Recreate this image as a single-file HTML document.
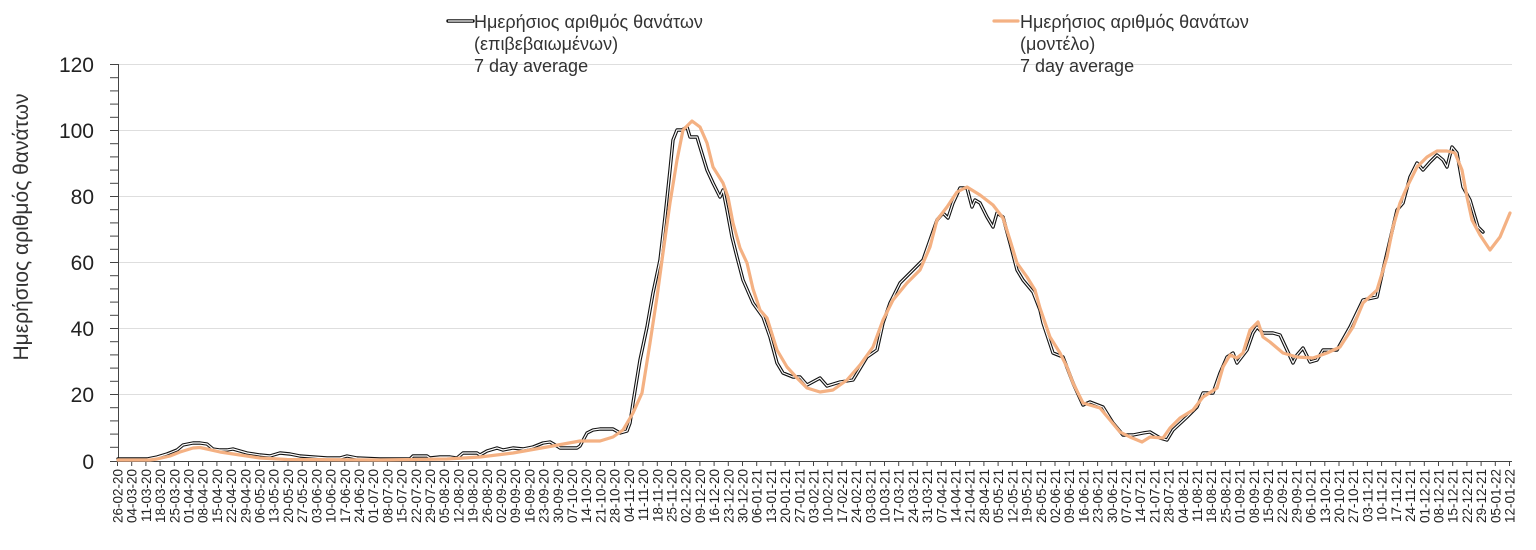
<!DOCTYPE html>
<html><head><meta charset="utf-8"><style>
html,body{margin:0;padding:0;background:#fff;}
svg{display:block;font-family:"Liberation Sans",Arial,sans-serif;}
</style></head><body>
<svg width="1536" height="550" viewBox="0 0 1536 550" xmlns="http://www.w3.org/2000/svg">
<rect width="1536" height="550" fill="#fff"/>
<g stroke="#dedede" stroke-width="1">
<line x1="118" y1="64.5" x2="1512" y2="64.5"/>
<line x1="118" y1="130.5" x2="1512" y2="130.5"/>
<line x1="118" y1="196.5" x2="1512" y2="196.5"/>
<line x1="118" y1="262.5" x2="1512" y2="262.5"/>
<line x1="118" y1="328.5" x2="1512" y2="328.5"/>
<line x1="118" y1="394.5" x2="1512" y2="394.5"/>
</g>
<g stroke="#444" stroke-width="1">
<line x1="118.5" y1="64" x2="118.5" y2="461"/>
<line x1="117" y1="461.5" x2="1512" y2="461.5"/>
<line x1="110" y1="64.5" x2="118" y2="64.5"/><line x1="110" y1="77.7" x2="118" y2="77.7"/><line x1="110" y1="90.9" x2="118" y2="90.9"/><line x1="110" y1="104.1" x2="118" y2="104.1"/><line x1="110" y1="117.3" x2="118" y2="117.3"/>
<line x1="110" y1="130.5" x2="118" y2="130.5"/><line x1="110" y1="143.7" x2="118" y2="143.7"/><line x1="110" y1="156.9" x2="118" y2="156.9"/><line x1="110" y1="170.1" x2="118" y2="170.1"/><line x1="110" y1="183.3" x2="118" y2="183.3"/>
<line x1="110" y1="196.5" x2="118" y2="196.5"/><line x1="110" y1="209.7" x2="118" y2="209.7"/><line x1="110" y1="222.9" x2="118" y2="222.9"/><line x1="110" y1="236.1" x2="118" y2="236.1"/><line x1="110" y1="249.3" x2="118" y2="249.3"/>
<line x1="110" y1="262.5" x2="118" y2="262.5"/><line x1="110" y1="275.7" x2="118" y2="275.7"/><line x1="110" y1="288.9" x2="118" y2="288.9"/><line x1="110" y1="302.1" x2="118" y2="302.1"/><line x1="110" y1="315.3" x2="118" y2="315.3"/>
<line x1="110" y1="328.5" x2="118" y2="328.5"/><line x1="110" y1="341.7" x2="118" y2="341.7"/><line x1="110" y1="354.9" x2="118" y2="354.9"/><line x1="110" y1="368.1" x2="118" y2="368.1"/><line x1="110" y1="381.3" x2="118" y2="381.3"/>
<line x1="110" y1="394.5" x2="118" y2="394.5"/><line x1="110" y1="407.7" x2="118" y2="407.7"/><line x1="110" y1="420.9" x2="118" y2="420.9"/><line x1="110" y1="434.1" x2="118" y2="434.1"/><line x1="110" y1="447.3" x2="118" y2="447.3"/>
<line x1="110" y1="461.5" x2="118" y2="461.5"/>
</g>
<path stroke="#444" stroke-width="1" fill="none" d="M117.5 461v5M131.7 461v5M145.9 461v5M160.1 461v5M174.3 461v5M188.5 461v5M202.7 461v5M216.9 461v5M231.1 461v5M245.3 461v5M259.5 461v5M273.7 461v5M288 461v5M302.2 461v5M316.4 461v5M330.6 461v5M344.8 461v5M359 461v5M373.2 461v5M387.4 461v5M401.6 461v5M415.8 461v5M430 461v5M444.2 461v5M458.4 461v5M472.6 461v5M486.8 461v5M501 461v5M515.2 461v5M529.4 461v5M543.6 461v5M557.8 461v5M572 461v5M586.2 461v5M600.4 461v5M614.6 461v5M628.8 461v5M643 461v5M657.3 461v5M671.5 461v5M685.7 461v5M699.9 461v5M714.1 461v5M728.3 461v5M742.5 461v5M756.7 461v5M770.9 461v5M785.1 461v5M799.3 461v5M813.5 461v5M827.7 461v5M841.9 461v5M856.1 461v5M870.3 461v5M884.5 461v5M898.7 461v5M912.9 461v5M927.1 461v5M941.3 461v5M955.5 461v5M969.7 461v5M983.9 461v5M998.1 461v5M1012.3 461v5M1026.5 461v5M1040.8 461v5M1055 461v5M1069.2 461v5M1083.4 461v5M1097.6 461v5M1111.8 461v5M1126 461v5M1140.2 461v5M1154.4 461v5M1168.6 461v5M1182.8 461v5M1197 461v5M1211.2 461v5M1225.4 461v5M1239.6 461v5M1253.8 461v5M1268 461v5M1282.2 461v5M1296.4 461v5M1310.6 461v5M1324.8 461v5M1339 461v5M1353.2 461v5M1367.4 461v5M1381.6 461v5M1395.8 461v5M1410 461v5M1424.3 461v5M1438.5 461v5M1452.7 461v5M1466.9 461v5M1481.1 461v5M1495.3 461v5M1509.5 461v5"/>
<g font-size="21" fill="#222" text-anchor="end">
<text x="94" y="72">120</text>
<text x="94" y="138">100</text>
<text x="94" y="204">80</text>
<text x="94" y="270">60</text>
<text x="94" y="336">40</text>
<text x="94" y="402">20</text>
<text x="94" y="469">0</text>
</g>
<text transform="translate(28,227) rotate(-90)" font-size="21" fill="#333" text-anchor="middle">Ημερήσιος αριθμός θανάτων</text>
<g font-size="13.5" fill="#222" text-anchor="end">
<text transform="translate(122.5,469) rotate(-90)">26-02-20</text>
<text transform="translate(136.7,469) rotate(-90)">04-03-20</text>
<text transform="translate(150.9,469) rotate(-90)">11-03-20</text>
<text transform="translate(165.1,469) rotate(-90)">18-03-20</text>
<text transform="translate(179.3,469) rotate(-90)">25-03-20</text>
<text transform="translate(193.5,469) rotate(-90)">01-04-20</text>
<text transform="translate(207.7,469) rotate(-90)">08-04-20</text>
<text transform="translate(221.9,469) rotate(-90)">15-04-20</text>
<text transform="translate(236.1,469) rotate(-90)">22-04-20</text>
<text transform="translate(250.3,469) rotate(-90)">29-04-20</text>
<text transform="translate(264.5,469) rotate(-90)">06-05-20</text>
<text transform="translate(278.7,469) rotate(-90)">13-05-20</text>
<text transform="translate(293,469) rotate(-90)">20-05-20</text>
<text transform="translate(307.2,469) rotate(-90)">27-05-20</text>
<text transform="translate(321.4,469) rotate(-90)">03-06-20</text>
<text transform="translate(335.6,469) rotate(-90)">10-06-20</text>
<text transform="translate(349.8,469) rotate(-90)">17-06-20</text>
<text transform="translate(364,469) rotate(-90)">24-06-20</text>
<text transform="translate(378.2,469) rotate(-90)">01-07-20</text>
<text transform="translate(392.4,469) rotate(-90)">08-07-20</text>
<text transform="translate(406.6,469) rotate(-90)">15-07-20</text>
<text transform="translate(420.8,469) rotate(-90)">22-07-20</text>
<text transform="translate(435,469) rotate(-90)">29-07-20</text>
<text transform="translate(449.2,469) rotate(-90)">05-08-20</text>
<text transform="translate(463.4,469) rotate(-90)">12-08-20</text>
<text transform="translate(477.6,469) rotate(-90)">19-08-20</text>
<text transform="translate(491.8,469) rotate(-90)">26-08-20</text>
<text transform="translate(506,469) rotate(-90)">02-09-20</text>
<text transform="translate(520.2,469) rotate(-90)">09-09-20</text>
<text transform="translate(534.4,469) rotate(-90)">16-09-20</text>
<text transform="translate(548.6,469) rotate(-90)">23-09-20</text>
<text transform="translate(562.8,469) rotate(-90)">30-09-20</text>
<text transform="translate(577,469) rotate(-90)">07-10-20</text>
<text transform="translate(591.2,469) rotate(-90)">14-10-20</text>
<text transform="translate(605.4,469) rotate(-90)">21-10-20</text>
<text transform="translate(619.6,469) rotate(-90)">28-10-20</text>
<text transform="translate(633.8,469) rotate(-90)">04-11-20</text>
<text transform="translate(648,469) rotate(-90)">11-11-20</text>
<text transform="translate(662.3,469) rotate(-90)">18-11-20</text>
<text transform="translate(676.5,469) rotate(-90)">25-11-20</text>
<text transform="translate(690.7,469) rotate(-90)">02-12-20</text>
<text transform="translate(704.9,469) rotate(-90)">09-12-20</text>
<text transform="translate(719.1,469) rotate(-90)">16-12-20</text>
<text transform="translate(733.3,469) rotate(-90)">23-12-20</text>
<text transform="translate(747.5,469) rotate(-90)">30-12-20</text>
<text transform="translate(761.7,469) rotate(-90)">06-01-21</text>
<text transform="translate(775.9,469) rotate(-90)">13-01-21</text>
<text transform="translate(790.1,469) rotate(-90)">20-01-21</text>
<text transform="translate(804.3,469) rotate(-90)">27-01-21</text>
<text transform="translate(818.5,469) rotate(-90)">03-02-21</text>
<text transform="translate(832.7,469) rotate(-90)">10-02-21</text>
<text transform="translate(846.9,469) rotate(-90)">17-02-21</text>
<text transform="translate(861.1,469) rotate(-90)">24-02-21</text>
<text transform="translate(875.3,469) rotate(-90)">03-03-21</text>
<text transform="translate(889.5,469) rotate(-90)">10-03-21</text>
<text transform="translate(903.7,469) rotate(-90)">17-03-21</text>
<text transform="translate(917.9,469) rotate(-90)">24-03-21</text>
<text transform="translate(932.1,469) rotate(-90)">31-03-21</text>
<text transform="translate(946.3,469) rotate(-90)">07-04-21</text>
<text transform="translate(960.5,469) rotate(-90)">14-04-21</text>
<text transform="translate(974.7,469) rotate(-90)">21-04-21</text>
<text transform="translate(988.9,469) rotate(-90)">28-04-21</text>
<text transform="translate(1003.1,469) rotate(-90)">05-05-21</text>
<text transform="translate(1017.3,469) rotate(-90)">12-05-21</text>
<text transform="translate(1031.5,469) rotate(-90)">19-05-21</text>
<text transform="translate(1045.8,469) rotate(-90)">26-05-21</text>
<text transform="translate(1060,469) rotate(-90)">02-06-21</text>
<text transform="translate(1074.2,469) rotate(-90)">09-06-21</text>
<text transform="translate(1088.4,469) rotate(-90)">16-06-21</text>
<text transform="translate(1102.6,469) rotate(-90)">23-06-21</text>
<text transform="translate(1116.8,469) rotate(-90)">30-06-21</text>
<text transform="translate(1131,469) rotate(-90)">07-07-21</text>
<text transform="translate(1145.2,469) rotate(-90)">14-07-21</text>
<text transform="translate(1159.4,469) rotate(-90)">21-07-21</text>
<text transform="translate(1173.6,469) rotate(-90)">28-07-21</text>
<text transform="translate(1187.8,469) rotate(-90)">04-08-21</text>
<text transform="translate(1202,469) rotate(-90)">11-08-21</text>
<text transform="translate(1216.2,469) rotate(-90)">18-08-21</text>
<text transform="translate(1230.4,469) rotate(-90)">25-08-21</text>
<text transform="translate(1244.6,469) rotate(-90)">01-09-21</text>
<text transform="translate(1258.8,469) rotate(-90)">08-09-21</text>
<text transform="translate(1273,469) rotate(-90)">15-09-21</text>
<text transform="translate(1287.2,469) rotate(-90)">22-09-21</text>
<text transform="translate(1301.4,469) rotate(-90)">29-09-21</text>
<text transform="translate(1315.6,469) rotate(-90)">06-10-21</text>
<text transform="translate(1329.8,469) rotate(-90)">13-10-21</text>
<text transform="translate(1344,469) rotate(-90)">20-10-21</text>
<text transform="translate(1358.2,469) rotate(-90)">27-10-21</text>
<text transform="translate(1372.4,469) rotate(-90)">03-11-21</text>
<text transform="translate(1386.6,469) rotate(-90)">10-11-21</text>
<text transform="translate(1400.8,469) rotate(-90)">17-11-21</text>
<text transform="translate(1415,469) rotate(-90)">24-11-21</text>
<text transform="translate(1429.3,469) rotate(-90)">01-12-21</text>
<text transform="translate(1443.5,469) rotate(-90)">08-12-21</text>
<text transform="translate(1457.7,469) rotate(-90)">15-12-21</text>
<text transform="translate(1471.9,469) rotate(-90)">22-12-21</text>
<text transform="translate(1486.1,469) rotate(-90)">29-12-21</text>
<text transform="translate(1500.3,469) rotate(-90)">05-01-22</text>
<text transform="translate(1514.5,469) rotate(-90)">12-01-22</text>
</g>
<g fill="none" stroke-linejoin="round" stroke-linecap="round">
<polyline id="blk" stroke="#111" stroke-width="3.4" points="118,459 147,459 157,457 167,454 177,450 183,445 193,443 200,443 207,444 213,449 220,450 227,450 233,449 240,451 247,453 260,455 270,456 280,453 290,454 300,456 313,457 327,458 340,458 347,456 357,458 380,459 410,459 413,456 427,456 430,458 440,457 450,457 457,458 463,453 477,453 480,455 487,451 497,448 503,450 513,448 523,449 533,447 543,443 550,442 557,446 560,448 577,448 580,446 587,433 593,430 600,429 613,429 620,433 627,431 630,423 633,403 640,360 647,327 653,293 660,260 665,217 670,170 673,140 677,130 682,130 687,127 690,137 697,137 700,147 707,170 713,183 720,197 723,190 727,210 732,237 737,257 743,280 753,303 763,317 770,337 777,363 783,373 793,377 800,377 807,385 820,378 827,386 840,382 853,380 867,357 877,350 883,323 890,303 900,283 913,270 923,260 930,240 937,220 943,213 948,218 953,203 960,188 967,188 972,207 975,200 980,203 987,217 993,227 997,213 1003,217 1010,243 1017,270 1023,280 1033,292 1040,310 1043,323 1053,353 1063,357 1073,383 1083,405 1090,402 1103,407 1113,423 1123,435 1133,435 1143,433 1150,432 1160,438 1167,440 1173,430 1187,417 1197,407 1203,393 1213,393 1220,373 1227,357 1233,353 1237,363 1247,350 1253,333 1257,327 1263,333 1273,333 1280,335 1287,350 1293,363 1297,355 1303,348 1310,362 1317,360 1323,350 1337,350 1350,327 1363,300 1377,297 1383,270 1390,240 1397,210 1403,203 1410,177 1417,163 1423,170 1430,162 1437,155 1443,160 1447,167 1452,147 1457,153 1463,187 1470,200 1475,217 1478,227 1483,232"/>
<polyline stroke="#fff" stroke-width="1.2" points="118,459 147,459 157,457 167,454 177,450 183,445 193,443 200,443 207,444 213,449 220,450 227,450 233,449 240,451 247,453 260,455 270,456 280,453 290,454 300,456 313,457 327,458 340,458 347,456 357,458 380,459 410,459 413,456 427,456 430,458 440,457 450,457 457,458 463,453 477,453 480,455 487,451 497,448 503,450 513,448 523,449 533,447 543,443 550,442 557,446 560,448 577,448 580,446 587,433 593,430 600,429 613,429 620,433 627,431 630,423 633,403 640,360 647,327 653,293 660,260 665,217 670,170 673,140 677,130 682,130 687,127 690,137 697,137 700,147 707,170 713,183 720,197 723,190 727,210 732,237 737,257 743,280 753,303 763,317 770,337 777,363 783,373 793,377 800,377 807,385 820,378 827,386 840,382 853,380 867,357 877,350 883,323 890,303 900,283 913,270 923,260 930,240 937,220 943,213 948,218 953,203 960,188 967,188 972,207 975,200 980,203 987,217 993,227 997,213 1003,217 1010,243 1017,270 1023,280 1033,292 1040,310 1043,323 1053,353 1063,357 1073,383 1083,405 1090,402 1103,407 1113,423 1123,435 1133,435 1143,433 1150,432 1160,438 1167,440 1173,430 1187,417 1197,407 1203,393 1213,393 1220,373 1227,357 1233,353 1237,363 1247,350 1253,333 1257,327 1263,333 1273,333 1280,335 1287,350 1293,363 1297,355 1303,348 1310,362 1317,360 1323,350 1337,350 1350,327 1363,300 1377,297 1383,270 1390,240 1397,210 1403,203 1410,177 1417,163 1423,170 1430,162 1437,155 1443,160 1447,167 1452,147 1457,153 1463,187 1470,200 1475,217 1478,227 1483,232"/>
<polyline stroke="#F4B183" stroke-width="3.2" points="118,460 150,460 157,459 170,456 180,452 193,448 200,447.5 207,449 220,452 240,455 260,458 287,459.5 380,460 447,459 480,457 513,453 547,447 580,441 600,441 613,437 623,430 633,413 642,393 650,343 657,297 663,253 670,203 677,160 683,130 692,121 700,127 707,143 713,167 723,183 728,197 733,223 740,248 747,263 753,289 760,310 767,318 777,350 787,367 797,378 807,388 820,392 833,390 847,380 860,365 873,347 883,320 893,300 907,283 920,270 930,247 937,220 947,207 957,192 967,187 980,195 993,205 1003,218 1010,240 1017,263 1027,277 1035,290 1040,308 1050,337 1060,353 1067,367 1073,383 1083,403 1100,408 1110,420 1120,432 1130,437 1142,442 1150,437 1163,438 1170,428 1180,418 1193,410 1203,397 1217,388 1223,367 1230,355 1237,358 1243,353 1250,330 1258,322 1263,337 1270,342 1283,353 1297,357 1313,358 1327,353 1340,347 1353,327 1363,303 1377,290 1387,257 1393,227 1400,203 1407,187 1417,167 1427,157 1437,151 1447,151 1455,153 1462,170 1467,197 1472,220 1480,235 1490,250 1500,237 1510,213"/>
</g>
<line x1="448" y1="21" x2="473" y2="21" stroke="#111" stroke-width="3.4" stroke-linecap="round"/>
<line x1="448" y1="21" x2="473" y2="21" stroke="#fff" stroke-width="1.2"/>
<line x1="994" y1="21" x2="1018" y2="21" stroke="#F4B183" stroke-width="3.2" stroke-linecap="round"/>
<g font-size="18" fill="#333">
<text x="474" y="28">Ημερήσιος αριθμός θανάτων</text>
<text x="474" y="50">(επιβεβαιωμένων)</text>
<text x="474" y="72">7 day average</text>
<text x="1020" y="28">Ημερήσιος αριθμός θανάτων</text>
<text x="1020" y="50">(μοντέλο)</text>
<text x="1020" y="72">7 day average</text>
</g>
</svg>
</body></html>
